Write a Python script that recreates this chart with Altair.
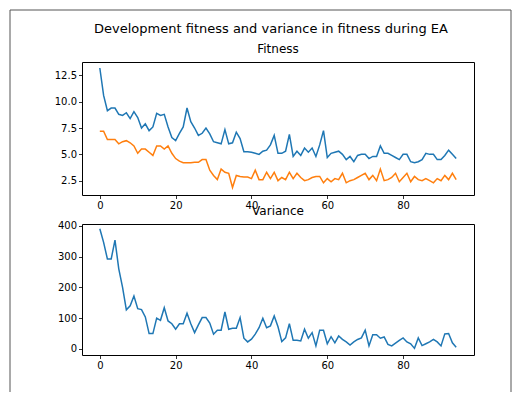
import altair as alt
import pandas as pd

generation = list(range(95))

fitness_mean = [13.2, 10.6, 9.15, 9.4, 9.4, 8.8, 8.7, 8.95, 8.4, 9.05,
                8.5, 7.5, 7.9, 7.25, 7.6, 8.9, 8.7, 8.8, 7.6, 6.6,
                6.3, 7.0, 7.6, 9.4, 8.1, 7.5, 6.8, 7.0, 7.5, 6.95,
                6.2, 6.1, 6.0, 7.35, 6.0, 6.1, 7.1, 6.5, 5.25, 5.25,
                5.2, 5.1, 5.0, 5.3, 5.4, 5.9, 6.8, 5.1, 5.1, 5.3,
                6.9, 4.8, 5.3, 4.9, 5.6, 5.2, 5.6, 4.8, 5.9, 7.25,
                4.7, 5.1, 5.2, 5.3, 5.0, 4.5, 4.8, 4.3, 4.9, 5.0,
                5.0, 4.6, 4.8, 4.8, 5.8, 5.1, 5.1, 4.9, 4.7, 4.5,
                5.0, 5.0, 4.3, 4.2, 4.3, 4.5, 5.1, 5.0, 5.0, 4.5,
                4.5, 4.9, 5.4, 5.0, 4.6]

fitness_best = [7.2, 7.2, 6.4, 6.4, 6.4, 6.0, 6.2, 6.3, 6.1, 5.8,
                5.1, 5.5, 5.5, 5.2, 4.9, 5.8, 5.8, 5.5, 5.8, 5.1,
                4.6, 4.35, 4.2, 4.2, 4.2, 4.25, 4.25, 4.5, 4.5, 3.5,
                3.0, 2.6, 3.6, 3.3, 3.2, 1.85, 3.0, 2.9, 2.85, 2.85,
                2.7, 3.5, 2.6, 2.6, 3.3, 2.7, 3.3, 2.5, 2.8, 2.6,
                3.3, 2.7, 3.2, 2.8, 2.5, 2.6, 2.8, 2.9, 2.9, 2.3,
                2.7, 2.4, 2.7, 2.6, 3.2, 2.3, 2.5, 2.6, 2.8, 3.0,
                3.2, 2.6, 3.0, 2.5, 3.6, 2.5, 2.6, 2.8, 3.2, 2.4,
                2.8, 3.2, 2.4, 2.9, 2.6, 2.5, 2.7, 2.5, 2.3, 2.7,
                2.5, 3.0, 2.6, 3.2, 2.6]

fitness_variance = [390, 346, 292, 292, 353, 260, 200, 127, 140, 172,
                    131, 128, 104, 50, 50, 100, 93, 134, 91, 82,
                    64, 82, 82, 116, 82, 53, 78, 102, 102, 84,
                    48, 61, 61, 120, 64, 67, 67, 102, 35, 23,
                    32, 48, 69, 100, 69, 75, 107, 72, 24, 36,
                    82, 28, 28, 26, 64, 35, 53, 10, 61, 61,
                    17, 40, 20, 42, 31, 23, 13, 23, 31, 36,
                    61, 10, 46, 46, 35, 39, 15, 10, 19, 28,
                    36, 23, 17, 2, 36, 11, 17, 23, 31, 23,
                    10, 49, 50, 20, 6]

series_names = ["Mean fitness", "Best fitness"]
series_colors = ["#1f77b4", "#ff7f0e"]

suptitle = "Development fitness and variance in fitness during EA"
top_title = "Fitness"
bottom_title = "Variance"

fit_df = pd.DataFrame({
    "generation": generation * 2,
    "fitness": fitness_mean + fitness_best,
    "series": [series_names[0]] * len(generation) + [series_names[1]] * len(generation),
})
var_df = pd.DataFrame({"generation": generation, "variance": fitness_variance})

FONT = "DejaVu Sans"
W, H1, H2 = 392, 133, 131

x_scale = alt.Scale(domain=[-4.7, 98.7], nice=False, zero=False)
x_axis = alt.Axis(values=[0, 20, 40, 60, 80], title=None)

fit_lines = alt.Chart(fit_df).mark_line(strokeWidth=1.5).encode(
    x=alt.X("generation:Q", scale=x_scale, axis=x_axis),
    y=alt.Y("fitness:Q", scale=alt.Scale(domain=[1.14, 13.77], nice=False, zero=False),
            axis=alt.Axis(values=[2.5, 5.0, 7.5, 10.0, 12.5], format=".1f", title=None)),
    color=alt.Color("series:N", scale=alt.Scale(domain=series_names, range=series_colors), legend=None),
)

one = pd.DataFrame({"f": [0]})

frame = alt.Chart(one).mark_rect(
    filled=False, stroke="#555555", strokeWidth=1, clip=False
).encode(x=alt.value(-72), x2=alt.value(429), y=alt.value(-52), y2=alt.value(360))

sup_text = alt.Chart(one).mark_text(
    text=suptitle, font=FONT, fontSize=13, color="black", align="center", baseline="alphabetic"
).encode(x=alt.value(189), y=alt.value(-29.5))

fit_text = alt.Chart(one).mark_text(
    text=top_title, font=FONT, fontSize=12, color="black", align="center", baseline="alphabetic"
).encode(x=alt.value(W / 2), y=alt.value(-9))

top = alt.layer(frame, fit_lines, sup_text, fit_text).properties(width=W, height=H1)

bottom = alt.Chart(var_df).mark_line(strokeWidth=1.5, color="#1f77b4").encode(
    x=alt.X("generation:Q", scale=x_scale, axis=x_axis),
    y=alt.Y("variance:Q", scale=alt.Scale(domain=[-19.5, 405.5], nice=False, zero=False),
            axis=alt.Axis(values=[0, 100, 200, 300, 400], title=None)),
).properties(
    width=W, height=H2,
    title=alt.TitleParams(bottom_title, fontSize=12, font=FONT, fontWeight="normal",
                          offset=3, color="black"),
)

chart = alt.vconcat(top, bottom, spacing=29, bounds="flush").properties(
    autosize=alt.AutoSizeParams(type="none"),
    padding={"left": 74, "top": 54, "right": 40, "bottom": 330},
    background="white",
).configure_view(
    stroke="black", strokeWidth=1
).configure_axis(
    domain=False, grid=False, ticks=True, tickColor="black", tickSize=3.5, tickWidth=0.8,
    labelFont=FONT, labelFontSize=10, labelColor="black", labelPadding=2,
)

chart.save("out.html", embed_options={"renderer": "svg", "actions": False})
